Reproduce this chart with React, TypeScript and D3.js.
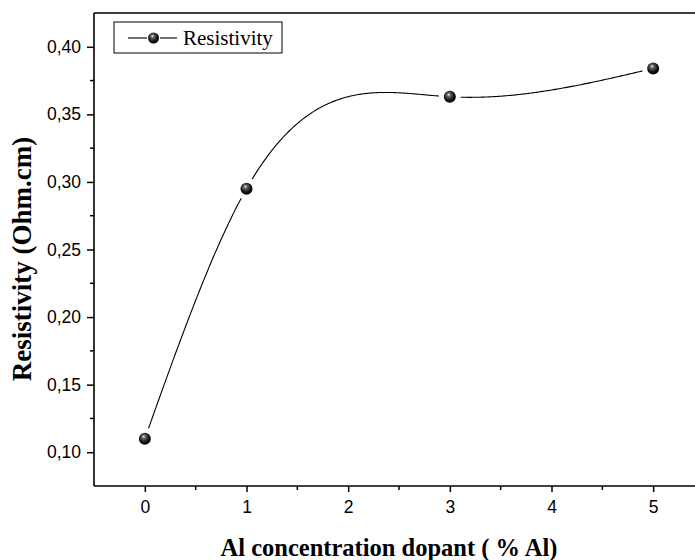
import React, { useEffect, useRef } from "react";
import * as d3 from "d3";

const xValues = [0, 1, 3, 5];
const yValues = [0.11, 0.295, 0.363, 0.384];
const xTicks = [0, 1, 2, 3, 4, 5];
const yTicks = [0.1, 0.15, 0.2, 0.25, 0.3, 0.35, 0.4];
const seriesName = "Resistivity";
const xTitle = "Al concentration dopant ( % Al)";
const yTitle = "Resistivity (Ohm.cm)";

const W = 695, H = 560;
const M = { left: 94, top: 13, right: 704, bottom: 486 };

// natural cubic spline through (xs, ys), evaluated as a function of x
function naturalSpline(xs: number[], ys: number[]) {
  const n = xs.length;
  const h = d3.range(n - 1).map(i => xs[i + 1] - xs[i]);
  const Mv = new Array(n).fill(0);
  const a: number[] = [], b: number[] = [], c: number[] = [], d: number[] = [];
  for (let i = 1; i < n - 1; i++) {
    a.push(h[i - 1]); b.push(2 * (h[i - 1] + h[i])); c.push(h[i]);
    d.push(6 * ((ys[i + 1] - ys[i]) / h[i] - (ys[i] - ys[i - 1]) / h[i - 1]));
  }
  const m = b.length;
  for (let i = 1; i < m; i++) {
    const w = a[i] / b[i - 1];
    b[i] -= w * c[i - 1]; d[i] -= w * d[i - 1];
  }
  const sol = new Array(m).fill(0);
  for (let i = m - 1; i >= 0; i--) sol[i] = (d[i] - (i < m - 1 ? c[i] * sol[i + 1] : 0)) / b[i];
  for (let i = 0; i < m; i++) Mv[i + 1] = sol[i];
  return (x: number) => {
    let i = 0;
    while (i < n - 2 && x > xs[i + 1]) i++;
    const hh = h[i], A = xs[i + 1] - x, B = x - xs[i];
    return Mv[i] * A * A * A / (6 * hh) + Mv[i + 1] * B * B * B / (6 * hh)
      + (ys[i] / hh - Mv[i] * hh / 6) * A + (ys[i + 1] / hh - Mv[i + 1] * hh / 6) * B;
  };
}

export default function App() {
  const ref = useRef<SVGSVGElement>(null);
  useEffect(() => {
    const svg = d3.select(ref.current);
    svg.selectAll("*").remove();
    const x = d3.scaleLinear().domain([-0.5, 5.5]).range([M.left, M.right]);
    const y = d3.scaleLinear().domain([0.075, 0.425]).range([M.bottom, M.top]);

    const defs = svg.append("defs");
    const g = defs.append("radialGradient").attr("id", "ball").attr("cx", "45%").attr("cy", "40%").attr("r", "60%").attr("fx", "40%").attr("fy", "32%");
    g.append("stop").attr("offset", "0%").attr("stop-color", "#f0f0f0");
    g.append("stop").attr("offset", "25%").attr("stop-color", "#666");
    g.append("stop").attr("offset", "70%").attr("stop-color", "#111");
    g.append("stop").attr("offset", "100%").attr("stop-color", "#000");

    svg.append("line").attr("x1", M.left).attr("x2", W).attr("y1", M.top).attr("y2", M.top).attr("stroke", "#000").attr("stroke-width", 1.6);

    const xAxis = d3.axisBottom(x).tickValues(xTicks).tickSize(6).tickFormat(d3.format("d") as any);
    const xg = svg.append("g").attr("transform", `translate(0,${M.bottom})`).call(xAxis);
    xg.select(".domain").attr("stroke-width", 1.6).attr("d", `M${M.left},0H${W + 10}`);
    xg.selectAll(".tick line").attr("stroke-width", 1.5);
    xg.selectAll("text").attr("font-family", "Liberation Sans, Arial, sans-serif").attr("font-size", 17.5).attr("fill", "#000").attr("y", 15).attr("dy", "0.71em");
    const xMinor = [0.5, 1.5, 2.5, 3.5, 4.5];
    xg.selectAll(".minor").data(xMinor).enter().append("line").attr("x1", d => x(d)).attr("x2", d => x(d)).attr("y1", 0).attr("y2", 4).attr("stroke", "#000").attr("stroke-width", 1.5);

    const yAxis = d3.axisLeft(y).tickValues(yTicks).tickSize(7).tickFormat(d => d3.format(".2f")(d as number).replace(".", ","));
    const yg = svg.append("g").attr("transform", `translate(${M.left},0)`).call(yAxis);
    yg.select(".domain").attr("stroke-width", 1.6).attr("d", `M0,${M.bottom}V${M.top}`);
    yg.selectAll(".tick line").attr("stroke-width", 1.5);
    yg.selectAll("text").attr("font-family", "Liberation Sans, Arial, sans-serif").attr("font-size", 17.5).attr("fill", "#000").attr("x", -13);
    const yMinor = [0.125, 0.175, 0.225, 0.275, 0.325, 0.375];
    yg.selectAll(".minor").data(yMinor).enter().append("line").attr("x1", 0).attr("x2", -4).attr("y1", d => y(d)).attr("y2", d => y(d)).attr("stroke", "#000").attr("stroke-width", 1.5);

    const f = naturalSpline(xValues, yValues);
    const samples = d3.range(0, 400 + 1).map(i => {
      const xv = xValues[0] + (xValues[xValues.length - 1] - xValues[0]) * i / 400;
      return [xv, f(xv)] as [number, number];
    });
    const line = d3.line<[number, number]>().x(d => x(d[0])).y(d => y(d[1]));
    svg.append("path").attr("d", line(samples)).attr("fill", "none").attr("stroke", "#000").attr("stroke-width", 1.1);

    const pts: [number, number][] = xValues.map((v, i) => [v, yValues[i]]);
    svg.selectAll(".gap").data(pts).enter().append("circle").attr("cx", d => x(d[0])).attr("cy", d => y(d[1])).attr("r", 11).attr("fill", "#fff");
    svg.selectAll(".pt").data(pts).enter().append("circle").attr("cx", d => x(d[0])).attr("cy", d => y(d[1])).attr("r", 6).attr("fill", "url(#ball)");

    const lg = svg.append("g");
    lg.append("rect").attr("x", 114).attr("y", 22).attr("width", 168).attr("height", 31).attr("fill", "#fff").attr("stroke", "#000").attr("stroke-width", 1);
    lg.append("line").attr("x1", 128).attr("x2", 147).attr("y1", 38).attr("y2", 38).attr("stroke", "#000").attr("stroke-width", 1.1);
    lg.append("line").attr("x1", 160).attr("x2", 177).attr("y1", 38).attr("y2", 38).attr("stroke", "#000").attr("stroke-width", 1.1);
    lg.append("circle").attr("cx", 153.5).attr("cy", 38).attr("r", 5.5).attr("fill", "url(#ball)");
    lg.append("text").attr("x", 183).attr("y", 45).attr("font-family", "Liberation Serif, Times New Roman, serif").attr("font-size", 21).text(seriesName);

    svg.append("text").attr("x", 389).attr("y", 556).attr("text-anchor", "middle").attr("font-family", "Liberation Serif, Times New Roman, serif").attr("font-weight", "bold").attr("font-size", 24.5).text(xTitle);
    svg.append("text").attr("transform", `translate(31,259) rotate(-90)`).attr("text-anchor", "middle").attr("font-family", "Liberation Serif, Times New Roman, serif").attr("font-weight", "bold").attr("font-size", 27).text(yTitle);
  }, []);
  return (
    <svg ref={ref} width={W} height={H} style={{ position: "absolute", left: 0, top: 0, background: "#fff" }} />
  );
}
